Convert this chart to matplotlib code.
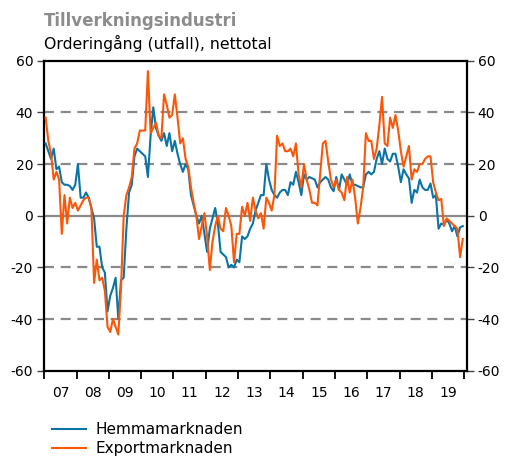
import numpy as np
import matplotlib
matplotlib.use("Agg")
import matplotlib.pyplot as plt
from matplotlib.lines import Line2D

plt.rcParams['font.family'] = ['DejaVu Sans']

title = "Tillverkningsindustri"
subtitle = "Orderingång (utfall), nettotal"
series_names = ["Hemmamarknaden", "Exportmarknaden"]
start_year = 2007
years = list(range(2007, 2020))
year_labels = ["07", "08", "09", "10", "11", "12", "13", "14", "15", "16", "17", "18", "19"]
yticks = [-60, -40, -20, 0, 20, 40, 60]

hemma = [
    28, 25, 22, 26, 18, 19, 13, 12, 12, 11.5, 10, 12,          # 2007
    20, 7, 7, 9, 7, 3, -1, -12, -12, -20, -22, -37,            # 2008
    -31, -28, -24, -40, -25, -24, -5, 9, 12, 23, 26, 25,       # 2009
    24, 23, 15, 31, 42, 34, 31, 29, 32, 27, 32, 25,            # 2010
    29, 24, 20, 17, 20, 18, 8, 4, 0, -3, 0, -7,                # 2011
    -14, -5, -1, 3, -3, -14, -15, -16, -20, -19, -20, -17,     # 2012
    -18, -8, -9, -8, -5, -3, 2, 5, 8, 8, 20, 14,               # 2013
    10, 8, 7, 9, 10, 10, 8, 13, 12, 17, 13, 8,                 # 2014
    16, 14, 15, 14.5, 14, 11, 13, 14, 15, 14, 11, 9.5,         # 2015
    15, 10, 16, 14, 12, 16, 12, 12, 11.5, 11, 11, 16,          # 2016
    17, 16, 17, 22, 25, 20, 26, 22, 21, 24, 24, 19,            # 2017
    13, 18, 16, 14.5, 5, 10, 9, 14, 11, 10, 10, 12.5,          # 2018
    7, 8, -5, -3, -3.5, -1.5, -3, -6, -4, -8, -4.5, -4,        # 2019
]

export = [
    38, 29, 24, 14, 17, 14, -7, 8, -3, 7, 3, 5,                # 2007
    2, 4, 6, 7, 7, 3, -26, -17, -25, -24, -29, -43,            # 2008
    -45, -40, -43, -46, -28, 0, 8, 11, 15, 26, 28, 33,         # 2009
    33, 33, 56, 32, 34, 36, 31, 30, 47, 43, 38, 39,            # 2010
    47, 38, 28, 30, 22, 19, 11, 5, 0, -9, -4, 1,               # 2011
    -8, -21, -10, -4, 0, -5, -6, 3, 0, -4, -18, -7,            # 2012
    -7, 3.5, 0, 5, -2, 7, 2, -1, 1, -5, 7, 5,                  # 2013
    2, 8, 31, 27, 28, 25, 25, 26, 23, 28, 16, 11,              # 2014
    20, 14, 10, 5, 5, 4, 16, 28, 29, 21, 14, 11,               # 2015
    14, 10, 9, 6, 15, 9, 14, 7, -3, 3, 11, 32,                 # 2016
    29, 29, 22, 26, 35, 46, 28, 27, 38, 34, 39, 33,            # 2017
    25, 19, 23, 27, 14, 18, 17, 20, 20, 22, 23, 23,            # 2018
    13, 9, 6, 6.5, -4, -1, -2, -3, -4, -5, -16, -9,            # 2019
]

blue = "#0a74a6"
orange = "#fc5608"
grid_col = "#8a8a8a"

n = len(hemma)
x = start_year + (np.arange(n) + 0.5) / 12.0

W, H = 507, 458
fig = plt.figure(figsize=(W / 100, H / 100), dpi=100)
ax = fig.add_axes([44.3 / W, 1 - 370.7 / H, (466.7 - 44.3) / W, (370.7 - 60.8) / H])

for yv in yticks[1:-1]:
    if yv == 0:
        ax.axhline(yv, color=grid_col, lw=1.6, zorder=1)
    else:
        ax.axhline(yv, color=grid_col, lw=1.6, ls=(0, (4.5, 3)), zorder=1)

ax.plot(x, hemma, color=blue, lw=1.5, zorder=3)
ax.plot(x, export, color=orange, lw=1.5, zorder=4)

ax.set_xlim(2007, 2020.08)
ax.set_ylim(-60, 60)

ax.set_xticks(list(years) + [2020])
ax.set_xticklabels([])
ax.set_xticks([y + 0.5 for y in years], minor=True)
ax.set_xticklabels(year_labels, minor=True)
ax.tick_params(axis='x', which='major', direction='out', length=6, width=1.3, color='black')
ax.tick_params(axis='x', which='minor', length=0, pad=11, labelsize=10)

ax.set_yticks(yticks)
ax.set_yticklabels([str(v) for v in yticks])
ax.tick_params(axis='y', which='major', direction='out', length=5, width=1.0, color='#444444',
               labelsize=10, pad=3, left=True, right=True, labelleft=True, labelright=True)

for s in ax.spines.values():
    s.set_color('black')
    s.set_linewidth(1.6)

fig.text(44 / W, 1 - 26 / H, title, fontsize=12, fontweight='bold', color='#8c8c8c', va='baseline', ha='left')
fig.text(44 / W, 1 - 49 / H, subtitle, fontsize=11.3, color='black', va='baseline', ha='left')

handles = [Line2D([0], [0], color=blue, lw=1.5), Line2D([0], [0], color=orange, lw=1.5)]
fig.legend(handles, series_names, loc='upper left', bbox_to_anchor=(52 / W, 1 - 422.5 / H),
           frameon=False, fontsize=11, handlelength=2.22, handletextpad=0.6, labelspacing=0.25,
           borderpad=0, borderaxespad=0)

fig.savefig("out.png", dpi=100)
